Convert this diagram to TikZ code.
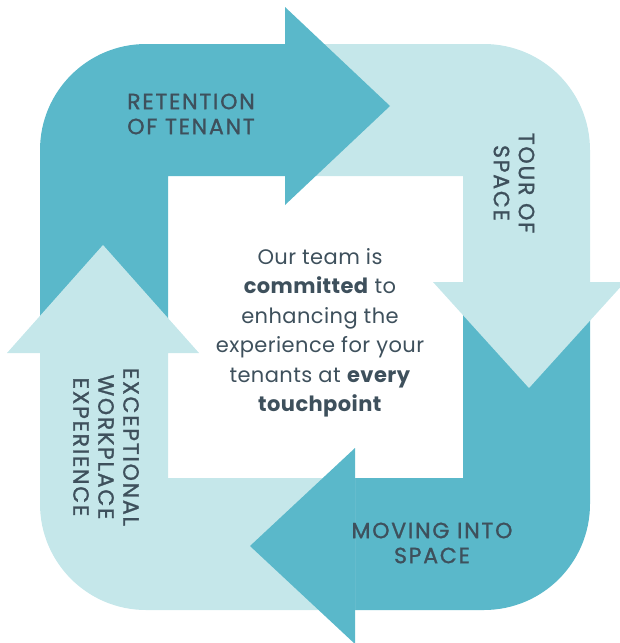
\documentclass[tikz,border=0pt]{standalone}
\usepackage{fontspec}
\setmainfont{Poppins}[LetterSpace=2]
\newfontfamily\labelfont{Poppins}[LetterSpace=8, FakeBold=1.2]
\definecolor{darkteal}{RGB}{90,184,202}
\definecolor{lightteal}{RGB}{197,231,234}
\definecolor{inkc}{RGB}{62,80,92}
\begin{document}
\begin{tikzpicture}[x=1pt,y=-1pt,
  steplabel/.style={text=inkc, align=center, inner sep=0pt, font=\labelfont\fontsize{22}{25}\selectfont},
  centertext/.style={text=inkc, align=center, inner sep=0pt, font=\fontsize{21}{29.5}\selectfont}]
\useasboundingbox (0,0) rectangle (620,643);
\clip (0,0) rectangle (620,643);
% bodies of the four arrows
\begin{scope}
  \clip[rounded corners=106pt] (40,44) rectangle (590,610);
  \fill[darkteal] (0,353) -- (0,0) -- (285,0) -- (285,176) -- (168,176) -- (168,353) -- cycle;
  \fill[lightteal] (285,0) -- (620,0) -- (620,282) -- (463,282) -- (463,176) -- (285,176) -- cycle;
  \fill[darkteal] (620,282) -- (620,643) -- (355,643) -- (355,478) -- (463,478) -- (463,282) -- cycle;
  \fill[lightteal] (355,643) -- (0,643) -- (0,353) -- (168,353) -- (168,478) -- (355,478) -- cycle;
\end{scope}
% arrow heads
\fill[darkteal] (285,7) -- (390,106) -- (285,205) -- cycle;
\fill[lightteal] (433,282) -- (529,388) -- (625,282) -- cycle;
\fill[darkteal] (355,448) -- (250,546) -- (355,644) -- cycle;
\fill[lightteal] (7,353) -- (103,245) -- (199,353) -- cycle;
% labels
\node[steplabel] (retention) at (191,114) {RETENTION\\OF TENANT};
\node[steplabel, rotate=-90] (tour) at (514,183) {TOUR OF\\SPACE};
\node[steplabel] (moving) at (432,543) {MOVING INTO\\SPACE};
\node[steplabel, rotate=-90] (exceptional) at (106,447) {EXCEPTIONAL\\WORKPLACE\\EXPERIENCE};
\node[centertext] (center) at (320,333) {Our team is\\\textbf{committed} to\\enhancing the\\experience for your\\tenants at \textbf{every}\\\textbf{touchpoint}};
\end{tikzpicture}
\end{document}
